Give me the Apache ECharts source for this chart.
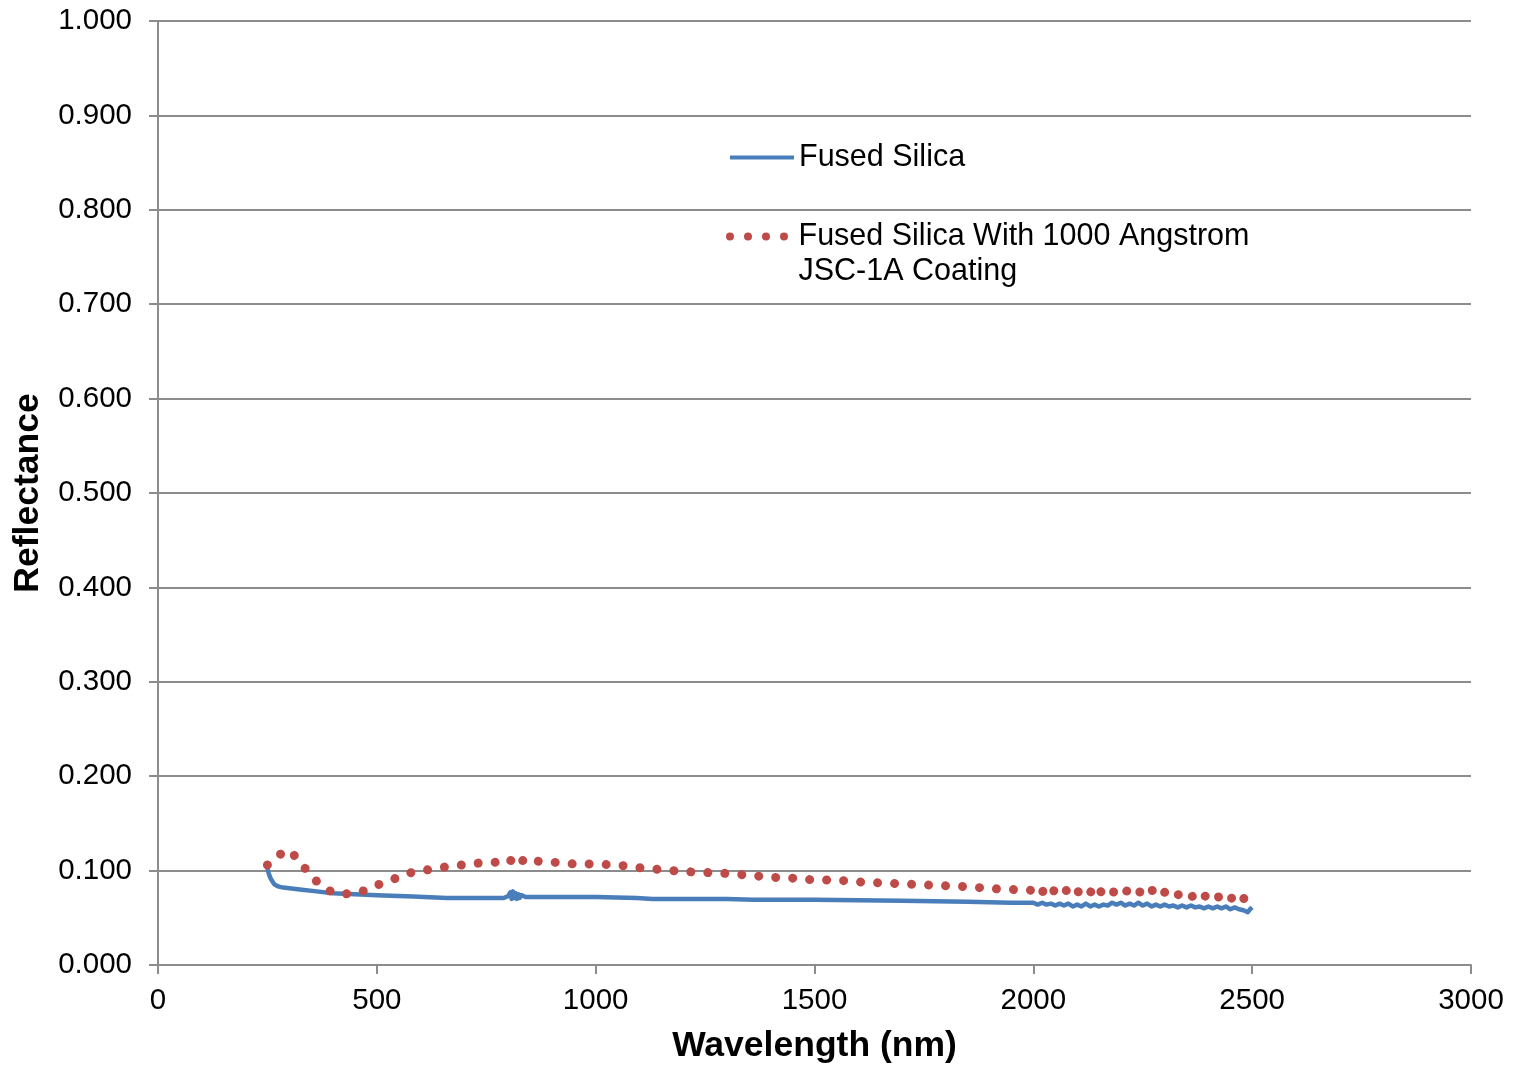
<!DOCTYPE html>
<html><head><meta charset="utf-8">
<script src="https://cdn.jsdelivr.net/npm/echarts@6/dist/echarts.min.js"></script>
<style>html,body{margin:0;padding:0;background:#fff}#c{width:1514px;height:1067px}</style>
</head><body><div id="c"></div>
<script>
const yTicks = [0, 0.1, 0.2, 0.3, 0.4, 0.5, 0.6, 0.7, 0.8, 0.9, 1.0];
const xTicks = [0, 500, 1000, 1500, 2000, 2500, 3000];
const seriesNames = ['Fused Silica', 'Fused Silica With 1000 Angstrom\nJSC-1A Coating'];
const blueWl = [250,253,257,262,267,276,286,324,362,400,450,500,583,660,700,790,800,805,808,811,814,817,820,823,826,830,840,850,900,1000,1094,1130,1200,1300,1360,1500,1700,1850,1950,
  2000,2010,2020,2030,2040,2050,2060,2070,2080,2090,2100,2110,2120,2130,2140,2150,2160,2170,2180,2190,2200,2210,2220,2230,2240,2250,2260,2270,2280,2290,2300,2310,2320,2330,2340,2350,2360,2370,2380,2390,2400,2410,2420,2430,2440,2450,2460,2470,2480,2490,2495,2500];
const blueR = [0.102,0.097,0.092,0.088,0.085,0.083,0.082,0.080,0.078,0.076,0.075,0.074,0.0725,0.071,0.071,0.071,0.073,0.077,0.070,0.078,0.071,0.076,0.070,0.075,0.071,0.074,0.072,0.072,0.072,0.072,0.071,0.070,0.070,0.070,0.069,0.069,0.068,0.067,0.066,
  0.066,0.064,0.066,0.064,0.065,0.063,0.065,0.063,0.065,0.062,0.064,0.062,0.065,0.062,0.064,0.062,0.064,0.063,0.066,0.064,0.066,0.063,0.065,0.063,0.066,0.063,0.065,0.062,0.064,0.062,0.064,0.062,0.063,0.061,0.063,0.061,0.063,0.061,0.062,0.060,0.062,0.060,0.062,0.060,0.062,0.059,0.061,0.059,0.058,0.056,0.059,0.061];
const redWl = [250,275,296,322,341,368,398,439,474,508,544,579,618,658,696,733,775,800,805,810,815,820,825,830,840,850,860,870,900,950,1000,1050,1100,1150,1200,1250,1300,1350,1400,1450,1500,1550,1600,1650,1700,1750,1800,1850,1900,1950,
  2000,2005,2010,2015,2020,2025,2030,2035,2040,2045,2050,2055,2060,2065,2070,2075,2080,2085,2090,2095,2100,2105,2110,2115,2120,2125,2130,2135,2140,2145,2150,2155,2160,2165,2170,2175,2180,2185,2190,2195,2200,2205,2210,2215,2220,2225,2230,2235,2240,2245,2250,2255,2260,2265,2270,2275,2280,2285,2290,2295,2300,2305,2310,2315,2320,2325,2330,2335,2340,2345,2350,2355,2360,2365,2370,2375,2380,2385,2390,2395,2400,2405,2410,2415,2420,2425,2430,2435,2440,2445,2450,2455,2460,2465,2470,2475,2480,2485,2490,2495,2500];
const redR = [0.106,0.116,0.122,0.112,0.099,0.086,0.077,0.075,0.079,0.086,0.092,0.098,0.101,0.104,0.106,0.108,0.109,0.112,0.110,0.113,0.111,0.113,0.110,0.112,0.108,0.110,0.109,0.110,0.109,0.107,0.107,0.106,0.103,0.101,0.099,0.098,0.097,0.095,0.093,0.092,0.090,0.090,0.088,0.087,0.086,0.085,0.084,0.083,0.081,0.080,
  0.079,0.081,0.078,0.080,0.077,0.080,0.078,0.081,0.077,0.079,0.078,0.080,0.077,0.080,0.078,0.079,0.077,0.080,0.078,0.079,0.076,0.079,0.077,0.079,0.076,0.078,0.077,0.079,0.074,0.077,0.075,0.078,0.076,0.078,0.077,0.079,0.076,0.078,0.077,0.079,0.076,0.078,0.077,0.079,0.076,0.078,0.077,0.078,0.076,0.078,0.077,0.079,0.076,0.079,0.080,0.077,0.078,0.076,0.078,0.075,0.077,0.075,0.076,0.074,0.076,0.074,0.075,0.073,0.075,0.073,0.074,0.073,0.074,0.072,0.074,0.072,0.074,0.072,0.074,0.072,0.073,0.071,0.073,0.072,0.074,0.071,0.073,0.071,0.073,0.071,0.072,0.070,0.072,0.070,0.072,0.069,0.071,0.068,0.070,0.067,0.066];

const BLUE = '#4A7EBB', RED = '#BE4B48', GRID = '#8C8C8C';
const FONT = '"Liberation Sans", Arial, sans-serif';
const DOTS = 'path://M0,4a4,4 0 1,0 8,0a4,4 0 1,0 -8,0M18,4a4,4 0 1,0 8,0a4,4 0 1,0 -8,0M36,4a4,4 0 1,0 8,0a4,4 0 1,0 -8,0M54,4a4,4 0 1,0 8,0a4,4 0 1,0 -8,0';
const chart = echarts.init(document.getElementById('c'), null, {renderer: 'canvas'});
chart.setOption({
  animation: false,
  backgroundColor: '#fff',
  textStyle: {fontFamily: FONT},
  grid: {left: 158, right: 43, top: 21, bottom: 102, containLabel: false, outerBoundsMode: 'none'},
  legend: [
    {data: [seriesNames[0]], left: 725, top: 137, itemWidth: 64, itemHeight: 4,
     icon: 'rect', selectedMode: false,
     itemStyle: {color: BLUE, borderWidth: 0},
     textStyle: {fontSize: 30.5, color: '#000', fontFamily: FONT}},
    {data: [seriesNames[1]], left: 721, top: 179, itemWidth: 73, itemHeight: 8,
     icon: DOTS, selectedMode: false,
     itemStyle: {color: RED, borderWidth: 0},
     formatter: n => '\u00a0\n' + n,
     textStyle: {fontSize: 30.5, color: '#000', fontFamily: FONT, lineHeight: 35}}
  ],
  xAxis: {
    type: 'value', min: 0, max: 3000, interval: 500,
    name: 'Wavelength (nm)', nameLocation: 'middle', nameGap: 63,
    nameTextStyle: {fontSize: 35.5, fontWeight: 'bold', color: '#000', fontFamily: FONT},
    axisLine: {show: true, lineStyle: {color: GRID, width: 2}},
    axisTick: {show: true, inside: false, length: 9, lineStyle: {color: GRID, width: 2}},
    axisLabel: {fontSize: 29.5, color: '#000', margin: 21, fontFamily: FONT,
      formatter: v => xTicks.includes(v) ? String(v) : ''},
    splitLine: {show: false}
  },
  yAxis: {
    type: 'value', min: 0, max: 1, interval: 0.1,
    name: 'Reflectance', nameLocation: 'middle', nameGap: 112, nameRotate: 90,
    nameTextStyle: {fontSize: 35.5, fontWeight: 'bold', color: '#000', fontFamily: FONT},
    axisLine: {show: true, lineStyle: {color: GRID, width: 2}},
    axisTick: {show: true, inside: false, length: 9, lineStyle: {color: GRID, width: 2}},
    axisLabel: {fontSize: 29.5, color: '#000', margin: 26, fontFamily: FONT,
      formatter: v => yTicks.some(t => Math.abs(t - v) < 1e-9) ? v.toFixed(3) : ''},
    splitLine: {show: true, lineStyle: {color: GRID, width: 2}}
  },
  series: [
    {name: seriesNames[0], type: 'line', showSymbol: false, symbol: 'none',
     data: blueWl.map((w, i) => [w, blueR[i]]),
     lineStyle: {color: BLUE, width: 4.5, join: 'round'}, itemStyle: {color: BLUE}, z: 2},
    {name: seriesNames[1], type: 'line', showSymbol: false, symbol: 'none',
     data: redWl.map((w, i) => [w, redR[i]]),
     lineStyle: {color: RED, width: 9, type: [0.01, 17], cap: 'round'}, itemStyle: {color: RED}, z: 3}
  ]
});
</script></body></html>
